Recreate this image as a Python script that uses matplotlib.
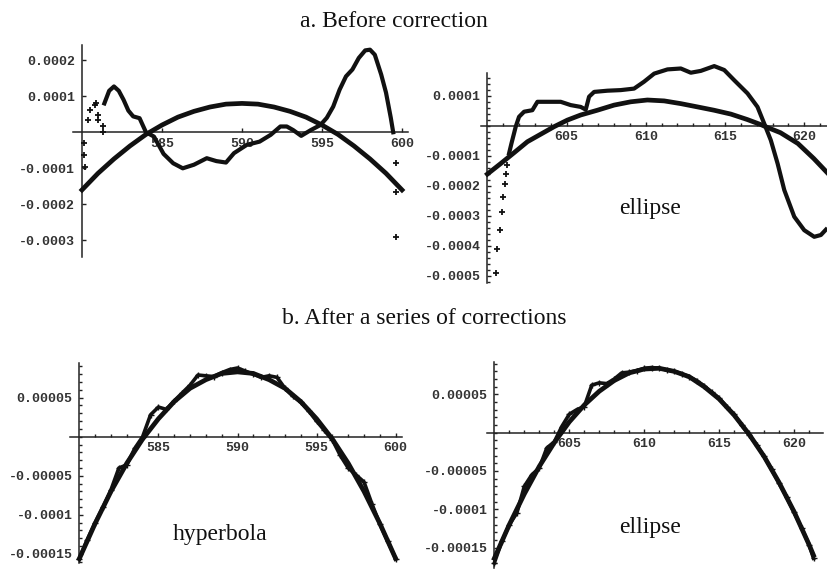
import numpy as np
import matplotlib.pyplot as plt

W, H = 828, 571

# ---- a. before correction, left panel (y in units of 1e-5) ----
a1_fit_x = list(range(580, 601))
a1_fit_y = [-16.0, -11.4, -7.4, -3.8, -0.6, 2.0, 4.2, 5.8, 7.0, 7.8, 8.0,
            7.8, 7.0, 5.8, 4.2, 2.0, -0.6, -3.8, -7.4, -11.4, -16.0]
a1_meas_x = [581.4, 581.7, 582.0, 582.3, 582.6, 582.9, 583.2, 583.6, 584.0, 584.5,
             585.1, 585.7, 586.3, 587.0, 587.8, 588.4, 589.0, 589.5, 590.3, 591.1,
             591.8, 592.4, 592.8, 593.2, 593.7, 594.3, 594.9, 595.3, 595.7, 596.1,
             596.5, 596.9, 597.3, 597.7, 598.0, 598.3, 598.7, 599.0, 599.3, 599.45]
a1_meas_y = [8.0, 11.5, 12.7, 11.5, 9.0, 6.0, 4.4, 3.9, 0.0, -1.2,
             -6.0, -8.6, -10.0, -9.0, -7.2, -8.0, -8.4, -5.8, -3.5, -2.6,
             -0.7, 1.6, 1.6, 0.6, -1.0, 0.6, 2.0, 4.0, 7.1, 11.8,
             15.5, 17.4, 20.6, 22.7, 22.9, 21.5, 16.0, 11.0, 4.0, 0.0]
a1_scat_x = [580.1, 580.15, 580.2, 580.35, 580.5, 580.8, 580.9, 581.0, 581.0,
             581.3, 581.3, 599.6, 599.6, 599.6]
a1_scat_y = [-3.0, -6.2, -9.5, 3.4, 6.2, 7.6, 8.0, 4.8, 3.4, 1.6, 0.2,
             -8.6, -16.7, -29.0]

# ---- a. before correction, right panel ----
a2_fit_x = [600.0, 600.84, 601.68, 602.53, 603.37, 604.21, 605.05, 605.89, 606.95,
            608.0, 609.05, 610.1, 611.16, 612.2, 613.26, 614.3, 615.37, 616.4,
            617.26, 617.7, 618.5, 619.6, 620.6, 621.5]
a2_fit_y = [-16.1, -12.6, -9.0, -5.3, -2.8, -0.3, 1.9, 3.6, 5.2, 6.9, 8.0, 8.6,
            8.3, 7.4, 6.3, 5.2, 3.9, 2.1, 0.4, -0.6, -2.3, -5.9, -10.9, -15.9]
a2_meas_x = [601.37, 601.52, 601.68, 601.79, 602.0, 602.32, 602.84, 603.16, 603.79,
             604.63, 605.26, 605.89, 606.21, 606.42, 606.74, 607.58, 608.42, 609.26,
             609.89, 610.53, 611.37, 612.21, 612.84, 613.47, 614.32, 614.95, 615.58,
             616.42, 617.05, 617.47, 617.89, 618.32, 618.74, 619.37, 620.0, 620.63,
             621.05, 621.37]
a2_meas_y = [-9.2, -5.9, -2.6, -0.3, 3.0, 4.7, 5.2, 8.0, 8.0,
             8.0, 6.9, 6.3, 5.4, 9.7, 11.3, 11.7, 11.9, 12.4,
             14.7, 17.4, 18.8, 19.1, 17.7, 18.3, 19.9, 18.6, 15.2,
             10.8, 6.3, 0.8, -4.8, -12.6, -21.4, -30.3, -34.8, -37.0,
             -36.4, -34.6]
a2_scat_x = [600.53, 600.63, 600.8, 600.95, 601.01, 601.09, 601.16, 601.26]
a2_scat_y = [-49.0, -40.9, -34.6, -28.7, -23.7, -19.4, -16.1, -13.1]

# ---- b. after corrections, left panel (hyperbola) ----
b1_fit_x = list(range(580, 601))
b1_fit_y = [-15.6, -11.1, -7.0, -3.4, -0.3, 2.3, 4.5, 6.2, 7.3, 8.1, 8.3,
            8.1, 7.3, 6.2, 4.5, 2.3, -0.3, -3.4, -7.0, -11.1, -15.6]
b1_meas_x = [580.0, 580.5, 581.0, 581.5, 582.0, 582.5, 583.0, 583.5, 584.0, 584.5,
             585.0, 585.5, 586.0, 586.5, 587.0, 587.5, 588.0, 588.5, 589.0, 589.5,
             590.0, 590.5, 591.0, 591.5, 592.0, 592.5, 593.0, 593.5, 594.0, 594.5,
             595.0, 595.5, 596.0, 596.5, 597.0, 597.5, 598.0, 598.5, 599.0, 599.5,
             600.0]
b1_meas_y = [-15.6, -13.2, -11.0, -9.0, -6.8, -4.0, -3.6, -1.5, 0.0, 2.8,
             3.8, 3.5, 4.6, 5.6, 6.6, 7.9, 7.8, 7.7, 8.2, 8.6,
             8.8, 8.4, 8.0, 7.6, 7.8, 7.6, 6.2, 5.2, 4.4, 3.3,
             2.0, 0.8, -0.4, -2.4, -4.0, -4.9, -5.8, -8.6, -11.2, -13.4,
             -15.6]

# ---- b. after corrections, right panel (ellipse) ----
b2_fit_x = [600, 601, 602, 603, 604, 605, 606, 607, 608, 609, 610, 611, 612,
            613, 614, 615, 616, 617, 618, 619, 620, 621, 621.3]
b2_fit_y = [-16.4, -12.0, -8.0, -4.4, -1.3, 1.4, 3.6, 5.4, 6.8, 7.8, 8.3, 8.4,
            8.0, 7.3, 6.0, 4.4, 2.3, -0.2, -3.1, -6.5, -10.3, -14.6, -16.0]
b2_meas_x = [600.0, 600.5, 601.0, 601.5, 602.0, 602.5, 603.0, 603.5, 604.0, 604.5,
             605.0, 605.5, 606.0, 606.5, 607.0, 607.5, 608.0, 608.5, 609.0, 609.5,
             610.0, 610.5, 611.0, 611.5, 612.0, 612.5, 613.0, 613.5, 614.0, 614.5,
             615.0, 615.5, 616.0, 616.5, 617.0, 617.5, 618.0, 618.5, 619.0, 619.5,
             620.0, 620.5, 621.0, 621.3]
b2_meas_y = [-17.0, -14.2, -12.0, -10.5, -7.0, -5.5, -4.6, -2.0, -1.2, 0.8,
             2.4, 3.0, 3.4, 6.2, 6.5, 6.4, 7.0, 7.8, 7.9, 8.1,
             8.4, 8.5, 8.4, 8.2, 8.0, 7.7, 7.3, 6.8, 6.1, 5.3,
             4.5, 3.4, 2.4, 1.0, -0.3, -1.6, -3.1, -4.8, -6.6, -8.4,
             -10.4, -12.4, -14.6, -16.4]

# tick positions and labels
a1_xticks = [585, 590, 595, 600]
a1_yticks = [20, 10, -10, -20, -30]
a1_ylabels = ['0.0002', '0.0001', '-0.0001', '-0.0002', '-0.0003']
a2_xticks = [605, 610, 615, 620]
a2_yticks = [10, -10, -20, -30, -40, -50]
a2_ylabels = ['0.0001', '-0.0001', '-0.0002', '-0.0003', '-0.0004', '-0.0005']
b1_xticks = [585, 590, 595, 600]
b2_xticks = [605, 610, 615, 620]
b_yticks = [5, -5, -10, -15]
b_ylabels = ['0.00005', '-0.00005', '-0.0001', '-0.00015']

INK = '#111111'
AX = '#222222'
MONO = 'Liberation Mono'
SERIF = 'Liberation Serif'

fig = plt.figure(figsize=(W / 100, H / 100), dpi=100)


def panel(box, xlim, ylim, x0, xt, yt, ylab, xminor=None, yminor=None):
    # box is (left, top, right, bottom) in pixels
    l, t, r, b = box
    ax = fig.add_axes([l / W, 1 - b / H, (r - l) / W, (b - t) / H])
    ax.patch.set_alpha(0)
    ax.set_xlim(*xlim)
    ax.set_ylim(*ylim)
    ax.spines['top'].set_visible(False)
    ax.spines['right'].set_visible(False)
    ax.spines['left'].set_position(('data', x0))
    ax.spines['bottom'].set_position(('data', 0))
    for s in ('left', 'bottom'):
        ax.spines[s].set_linewidth(1.1)
        ax.spines[s].set_color(AX)
    ax.set_xticks(xt)
    ax.set_xticklabels([str(v) for v in xt])
    ax.set_yticks(yt)
    ax.set_yticklabels(ylab)
    if xminor is not None:
        ax.set_xticks(xminor, minor=True)
    if yminor is not None:
        ax.set_yticks(yminor, minor=True)
    ax.tick_params(which='major', direction='in', length=3, width=1, color=AX,
                   labelcolor='#333333', labelsize=9.5)
    ax.tick_params(which='minor', direction='in', length=2, width=1, color=AX)
    ax.tick_params(axis='y', pad=5)
    ax.tick_params(axis='x', pad=4)
    for lab in ax.get_xticklabels() + ax.get_yticklabels():
        lab.set_family(MONO)
        lab.set_weight('bold')
    return ax


# a. left
ax1 = panel((73, 45, 408.4, 257), (579.44, 600.4), (-34.6, 24.2), 580,
            a1_xticks, a1_yticks, a1_ylabels)
ax1.plot(a1_fit_x, a1_fit_y, color=INK, lw=3.4, zorder=3, clip_on=False)
ax1.plot(a1_meas_x, a1_meas_y, color=INK, lw=3.0, zorder=3, clip_on=False)
ax1.plot(a1_scat_x, a1_scat_y, '+', color=INK, ms=4, mew=1.3, zorder=3, clip_on=False)

# a. right
ax2 = panel((480.7, 73.3, 828, 283.3), (599.58, 621.5), (-52.5, 17.5), 600,
            a2_xticks, a2_yticks, a2_ylabels,
            xminor=np.arange(601, 622, 1), yminor=np.arange(-52, 18, 2))
ax2.plot(a2_fit_x, a2_fit_y, color=INK, lw=3.4, zorder=3, clip_on=False)
ax2.plot(a2_meas_x, a2_meas_y, color=INK, lw=3.0, zorder=3, clip_on=False)
ax2.plot(a2_scat_x, a2_scat_y, '+', color=INK, ms=4, mew=1.3, zorder=3, clip_on=False)

# b. left
ax3 = panel((70, 363.3, 402, 563.3), (579.41, 600.4), (-16.2, 9.4), 580,
            b1_xticks, b_yticks, b_ylabels,
            xminor=np.arange(581, 601, 1), yminor=np.arange(-16, 10, 1))
ax3.plot(b1_fit_x, b1_fit_y, color=INK, lw=3.4, zorder=3, clip_on=False)
ax3.plot(b1_meas_x, b1_meas_y, color=INK, lw=2.6, marker='+', ms=4, mew=1.0,
         zorder=3, clip_on=False)

# b. right
ax4 = panel((487.3, 361.7, 822.5, 568.3), (599.53, 621.9), (-17.7, 9.26), 600,
            b2_xticks, b_yticks, b_ylabels,
            xminor=np.arange(601, 622, 1), yminor=np.arange(-17, 10, 1))
ax4.plot(b2_fit_x, b2_fit_y, color=INK, lw=3.4, zorder=3, clip_on=False)
ax4.plot(b2_meas_x, b2_meas_y, color=INK, lw=2.6, marker='+', ms=4, mew=1.0,
         zorder=3, clip_on=False)


def label(x, y, s):
    fig.text(x / W, 1 - y / H, s, family=SERIF, fontsize=17, color=INK,
             ha='left', va='baseline')


label(300, 27.3, 'a. Before correction')
label(282, 324, 'b. After a series of corrections')
label(619, 214, 'ellipse')
label(173, 540, 'hyperbola')
label(619, 533, 'ellipse')

fig.savefig('out.png', dpi=100)
